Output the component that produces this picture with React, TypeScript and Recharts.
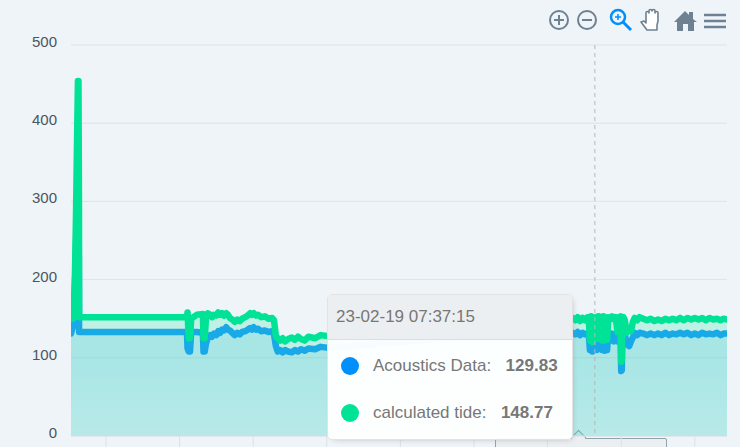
import { Area, CartesianGrid, ComposedChart, Tooltip, XAxis, YAxis } from "recharts"

// hours since 20-02-19 00:00
const hours = [
  -5.7, -5.55, -5.38, -5.22, -5.05, -4.89, -4.73, -4.57, -4.48, -4.4, -4.38,
  13.2, 13.3, 13.5, 13.7, 13.9, 14.8, 15.8, 15.9, 16.1,
  16.3, 16.6, 17, 17.3, 17.6, 18, 18.3, 18.6, 18.9, 19.2, 19.6, 19.9, 20.2, 20.6, 21, 21.4, 21.8, 22.2, 22.7, 23.1, 23.5,
  23.8, 24.1, 24.5, 24.8, 25.3, 25.9, 26.5, 27.1, 27.4, 27.7, 28, 28.4, 28.8, 29.2, 29.7, 30.3, 30.8, 31.3, 31.8, 32.4,
  33, 34.1, 35, 36,
  39.8, 47.9, 56, 64.2, 70.8,
  76.1, 76.5, 76.9, 77.3, 77.7, 78.1, 78.5,
  78.7, 78.9, 79.1, 79.3, 79.5, 79.7, 79.9, 80.1, 80.3, 80.5, 80.7, 80.9, 81.1, 81.3, 81.5, 81.7,
  81.9, 82.2, 82.5, 82.8, 83.1, 83.4, 83.7, 83.9, 84, 84.1, 84.2, 84.35, 84.6, 84.9, 85.3, 85.6, 85.9, 86.2, 86.6, 87,
  87.6, 88.2, 88.8, 89.4, 90, 90.6, 91.2, 91.8, 92.4, 93, 93.6, 94.2, 94.8, 95.4, 96, 96.6, 97.2, 97.8, 98.4, 99, 99.6,
  100.2, 100.7, 101.25,
]
const acoustics = [
  131, 136, 140, 150, 190, 240, 290, 320, 320, 200, 133,
  133, 112, 108, 108, 133, 133, 132, 108, 108,
  118, 126, 129, 127, 131, 129, 134, 132, 136, 135, 139, 136, 135, 132, 129, 132, 130, 133, 134, 136, 138,
  136, 139, 136, 137, 134, 135, 133, 134, 130, 115, 108, 110, 107, 110, 108, 107, 110, 108, 111, 109,
  112, 111, 114, 113,
  115, 120, 126, 129, 131,
  132, 130, 133, 129, 132, 130, 131,
  131, 110, 132, 108, 131, 129.83, 132, 110, 125, 112, 128, 110, 132, 109, 131, 110,
  131, 122, 131, 121, 130, 121, 130, 130, 83, 84, 130, 132, 130, 118, 115, 121, 126, 132, 129, 132,
  131, 129, 131, 129, 131, 129, 132, 129, 131, 130, 132, 130, 132, 129, 131, 129, 132, 130, 131, 130, 132,
  129, 131, 131,
]
const tide = [
  152, 150, 150, 170, 210, 280, 370, 454, 454, 300, 152,
  152, 158, 125, 125, 150, 155, 156, 125, 125,
  150, 157, 155, 152, 155, 154, 158, 155, 157, 154, 157, 155, 151, 149, 146, 149, 147, 150, 152, 154, 157,
  155, 157, 154, 155, 152, 153, 150, 151, 148, 128, 125, 122, 125, 121, 124, 126, 123, 127, 124, 122,
  127, 125, 129, 128,
  131, 138, 143, 147, 150,
  151, 148, 152, 147, 151, 148, 152,
  152, 122, 153, 120, 151, 148.77, 152, 124, 153, 126, 152, 122, 153, 122, 152, 123,
  152, 149, 153, 150, 152, 133, 152, 153, 95, 96, 151, 152, 148, 132, 135, 134, 146, 151, 148, 152,
  150, 148, 150, 147, 149, 147, 150, 148, 150, 148, 151, 148, 151, 149, 151, 149, 151, 148, 151, 149, 150,
  148, 150, 149,
]
const yTicks = [0, 100, 200, 300, 400, 500]
const xTicks = [0, 12, 24, 36, 48, 60, 72, 84, 96]
const hoverIndex = hours.indexOf(79.7)
const hoverLabel = "23-02-19 07:37:15"

const data = hours.map((h, i) => ({ h, acoustics: acoustics[i], tide: tide[i] }))

const BLUE = "#008FFB"
const GREEN = "#00E396"
const ICON = "#6E8192"

function YTick({ x, y, payload }: any) {
  return (
    <text x={x} y={y - 2} textAnchor="end" dominantBaseline="middle" fontSize={15} fill="#4b5560" fontFamily="Liberation Sans">
      {payload.value}
    </text>
  )
}

function HoverBox({ payload }: any) {
  if (!payload || !payload.length) return null
  const rows = [
    { name: "Acoustics Data:", color: BLUE, value: payload[0].value },
    { name: "calculated tide:", color: GREEN, value: payload[1].value },
  ]
  return (
    <div
      style={{
        width: 246,
        height: 146,
        boxSizing: "border-box",
        background: "rgba(255,255,255,0.97)",
        border: "1px solid #e3e3e3",
        borderRadius: 5,
        boxShadow: "2px 2px 6px -4px #999",
        fontFamily: "Liberation Sans",
        fontSize: 17,
        color: "#777",
        overflow: "hidden",
      }}
    >
      <div style={{ height: 44, lineHeight: "43px", paddingLeft: 8, background: "#ECEFF1", borderBottom: "1px solid #ddd", marginBottom: 2 }}>
        {hoverLabel}
      </div>
      {rows.map((r) => (
        <div key={r.name} style={{ height: 47, display: "flex", alignItems: "center", paddingLeft: 13 }}>
          <span style={{ width: 18, height: 18, borderRadius: 9, background: r.color, marginRight: 14, flex: "none" }} />
          <span>{r.name}</span>
          <b style={{ marginLeft: 14.5 }}>{r.value.toFixed(2)}</b>
        </div>
      ))}
    </div>
  )
}

function Toolbar() {
  return (
    <svg width={740} height={40} style={{ position: "absolute", left: 0, top: 0 }}>
      <g fill="none" stroke={ICON} strokeWidth={2}>
        <circle cx={559} cy={20} r={9} />
        <path d="M554 20h10M559 15v10" />
        <circle cx={587} cy={20} r={9} />
        <path d="M582 20h10" />
      </g>
      <g fill="none" stroke={BLUE} strokeWidth={2.5}>
        <circle cx={618} cy={17} r={7} />
        <path d="M623 22l8 8" strokeWidth={3} />
        <path d="M615 17h6M618 14v6" strokeWidth={1.5} />
      </g>
      <path
        d="M641 22l3 -1 2 2v-10a1.5 1.5 0 0 1 3 0v-2a1.5 1.5 0 0 1 3 0v0a1.5 1.5 0 0 1 3 0v2a1.5 1.5 0 0 1 3 0v8l-1 4v5h-10l-6 -8z"
        fill="#fff"
        stroke={ICON}
        strokeWidth={1.6}
        strokeLinejoin="round"
      />
      <path d="M674 22l11 -11 4 4v-3h4v7l4 3h-3v9h-6v-7h-5v7h-6v-9z" fill={ICON} />
      <path d="M704 15h22M704 21h22M704 27h22" stroke={ICON} strokeWidth={2.6} />
    </svg>
  )
}

export default function App() {
  return (
    <div style={{ position: "absolute", left: 0, top: 0, width: 740, height: 447, overflow: "hidden", background: "#EFF4F8" }}>
      <Toolbar />
      <div
        style={{
          position: "absolute",
          left: 495,
          top: 438,
          width: 172,
          height: 30,
          boxSizing: "border-box",
          border: "1px solid #90A4AE",
          borderRadius: 2,
          background: "#ECEFF1",
        }}
      />
      <div
        style={{
          position: "absolute",
          left: 573,
          top: 432,
          width: 11,
          height: 11,
          transform: "rotate(45deg)",
          background: "#ECEFF1",
          borderLeft: "1px solid #90A4AE",
          borderTop: "1px solid #90A4AE",
          boxSizing: "border-box",
        }}
      />
      <ComposedChart
        width={740}
        height={447}
        data={data}
        margin={{ top: 45, right: 13, bottom: 0, left: 0 }}
        style={{ position: "absolute", left: 0, top: 0 }}
      >
        <defs>
          <linearGradient id="fillBlue" x1="0" y1="0" x2="0" y2="1">
            <stop offset="70%" stopColor={BLUE} stopOpacity={0.13} />
            <stop offset="100%" stopColor={BLUE} stopOpacity={0.09} />
          </linearGradient>
          <linearGradient id="fillGreen" x1="0" y1="0" x2="0" y2="1">
            <stop offset="70%" stopColor={GREEN} stopOpacity={0.2} />
            <stop offset="100%" stopColor={GREEN} stopOpacity={0.16} />
          </linearGradient>
        </defs>
        <CartesianGrid vertical={false} stroke="#DFE3E7" />
        <XAxis
          dataKey="h"
          type="number"
          domain={[-5.7, 101.25]}
          ticks={xTicks}
          tickFormatter={() => ""}
          height={11}
          tickSize={11}
          stroke="#DDE1E5"
          allowDataOverflow
        />
        <YAxis
          domain={[0, 500]}
          ticks={yTicks}
          width={71}
          axisLine={false}
          tickLine={false}
          tick={(p: any) => <YTick {...p} x={57} />}
        />
        <Area
          dataKey="acoustics"
          type="linear"
          stroke="#1E9BFB"
          strokeWidth={6.5}
          strokeLinecap="round"
          strokeLinejoin="round"
          fill="url(#fillBlue)"
          fillOpacity={1}
          dot={false}
          activeDot={false}
          isAnimationActive={false}
        />
        <Area
          dataKey="tide"
          type="linear"
          stroke={GREEN}
          strokeWidth={6.5}
          strokeLinecap="round"
          strokeLinejoin="round"
          fill="url(#fillGreen)"
          fillOpacity={1}
          dot={false}
          activeDot={false}
          isAnimationActive={false}
        />
        <Tooltip
          active
          defaultIndex={hoverIndex}
          content={HoverBox}
          position={{ x: 327, y: 294 }}
          cursor={{ stroke: "#b6b6b6", strokeDasharray: "4 4", strokeWidth: 1 }}
          isAnimationActive={false}
          allowEscapeViewBox={{ x: true, y: true }}
        />
      </ComposedChart>
    </div>
  )
}
